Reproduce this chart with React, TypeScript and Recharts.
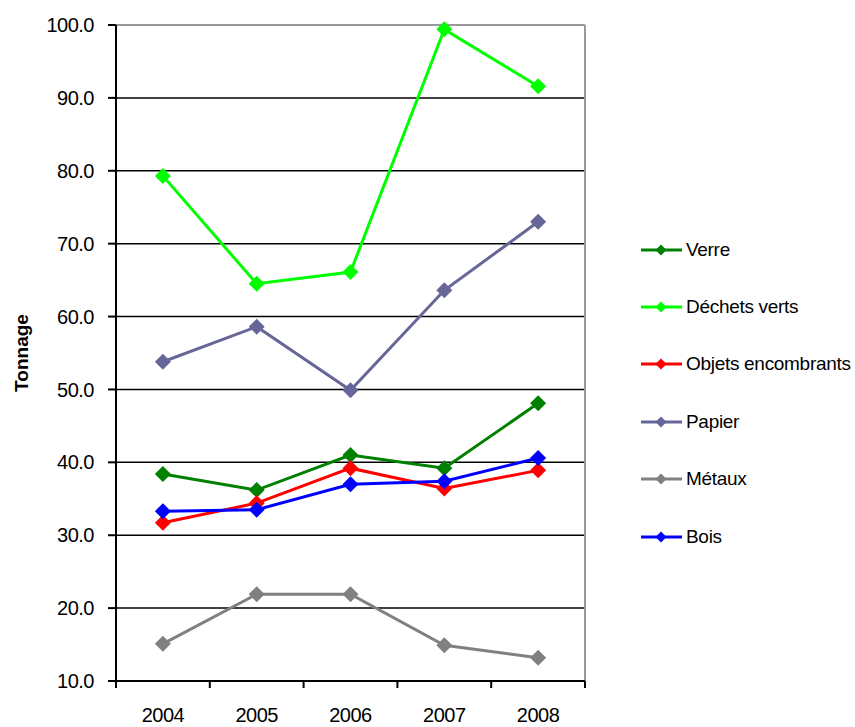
import { CartesianGrid, Line, LineChart, ReferenceLine, XAxis, YAxis } from "recharts";

const years = ["2004", "2005", "2006", "2007", "2008"];

const verre = [38.4, 36.2, 41.0, 39.2, 48.1];
const dechetsVerts = [79.3, 64.5, 66.1, 99.4, 91.6];
const objetsEncombrants = [31.7, 34.4, 39.2, 36.4, 38.9];
const papier = [53.8, 58.6, 49.9, 63.6, 73.0];
const metaux = [15.1, 21.9, 21.9, 14.9, 13.2];
const bois = [33.3, 33.5, 37.0, 37.4, 40.6];

const yTicks = [10, 20, 30, 40, 50, 60, 70, 80, 90, 100];
const gridValues = [20, 30, 40, 50, 60, 70, 80, 90];

const series = [
  { key: "verre", name: "Verre", color: "#008000", values: verre },
  { key: "dechets", name: "Déchets verts", color: "#00ff00", values: dechetsVerts },
  { key: "objets", name: "Objets encombrants", color: "#ff0000", values: objetsEncombrants },
  { key: "papier", name: "Papier", color: "#666699", values: papier },
  { key: "metaux", name: "Métaux", color: "#808080", values: metaux },
  { key: "bois", name: "Bois", color: "#0000ff", values: bois }
];

// category i sits in the middle of band [i, i+1]
const data = years.map((year, i) => {
  const row: Record<string, number | string> = { pos: i + 0.5, year };
  series.forEach((s) => {
    row[s.key] = s.values[i];
  });
  return row;
});

// boundaries get a tick line, band centres get the year label
const xTicks: number[] = [];
for (let i = 0; i <= years.length; i++) {
  xTicks.push(i);
  if (i < years.length) xTicks.push(i + 0.5);
}

const FONT = "'Liberation Sans', Arial, sans-serif";

function Diamond(props: any) {
  const { cx, cy, stroke } = props;
  if (cx == null || cy == null) return null;
  const r = 8;
  return (
    <polygon
      points={`${cx},${cy - r} ${cx + r},${cy} ${cx},${cy + r} ${cx - r},${cy}`}
      fill={stroke}
      stroke="none"
    />
  );
}

function XTick(props: any) {
  const { x, y, payload } = props;
  const v = payload.value as number;
  if (Number.isInteger(v)) {
    return <line x1={x} x2={x} y1={y} y2={y + 7} stroke="#000" strokeWidth={2} />;
  }
  return (
    <text
      x={x}
      y={y + 41}
      textAnchor="middle"
      fill="#000"
      fontSize={20}
      fontFamily={FONT}
      letterSpacing={-0.5}
    >
      {years[Math.floor(v)]}
    </text>
  );
}

function YLabel(props: any) {
  const { viewBox } = props;
  const cx = viewBox.x + 21;
  const cy = viewBox.y + viewBox.height / 2;
  return (
    <text
      x={cx}
      y={cy}
      transform={`rotate(-90 ${cx} ${cy})`}
      textAnchor="middle"
      dominantBaseline="central"
      fontSize={19}
      fontWeight="bold"
      fontFamily={FONT}
      fill="#000"
    >
      Tonnage
    </text>
  );
}

export default function App() {
  return (
    <div style={{ position: "absolute", left: 0, top: 0, width: 855, height: 727, background: "#fff", fontFamily: FONT }}>
      <LineChart width={855} height={727} data={data} margin={{ top: 25, right: 270, bottom: 0, left: 0 }}>
        <CartesianGrid vertical={false} horizontalValues={gridValues} stroke="#000" strokeWidth={1.5} />
        <ReferenceLine y={100} stroke="#999" strokeWidth={2} />
        <ReferenceLine x={5} stroke="#999" strokeWidth={2} />
        <XAxis
          dataKey="pos"
          type="number"
          domain={[0, 5]}
          ticks={xTicks}
          interval={0}
          height={46}
          tickSize={0}
          tickMargin={0}
          tickLine={false}
          axisLine={{ stroke: "#000", strokeWidth: 2 }}
          tick={<XTick />}
        />
        <YAxis
          type="number"
          domain={[10, 100]}
          ticks={yTicks}
          interval={0}
          width={116}
          tickSize={8}
          tickMargin={14}
          tickFormatter={(v: number) => v.toFixed(1)}
          tick={{ fill: "#000", fontSize: 20, fontFamily: FONT, letterSpacing: -0.5 }}
          tickLine={{ stroke: "#000", strokeWidth: 2 }}
          axisLine={{ stroke: "#000", strokeWidth: 2 }}
          label={{ content: <YLabel /> }}
        />
        {series.map((s) => (
          <Line
            key={s.key}
            type="linear"
            dataKey={s.key}
            name={s.name}
            stroke={s.color}
            strokeWidth={3}
            dot={<Diamond />}
            activeDot={false}
            isAnimationActive={false}
          />
        ))}
      </LineChart>
      <div style={{ position: "absolute", left: 640, top: 221, width: 215 }}>
        {series.map((s) => (
          <div key={s.key} style={{ height: 57.4, display: "flex", alignItems: "center" }}>
            <svg width={44} height={14} style={{ flex: "none" }}>
              <line x1={1} x2={42} y1={7} y2={7} stroke={s.color} strokeWidth={3} />
              <polygon points="21,1.5 26.5,7 21,12.5 15.5,7" fill={s.color} />
            </svg>
            <span style={{ marginLeft: 2, fontSize: 19, color: "#000", letterSpacing: -0.3, whiteSpace: "nowrap" }}>
              {s.name}
            </span>
          </div>
        ))}
      </div>
    </div>
  );
}
